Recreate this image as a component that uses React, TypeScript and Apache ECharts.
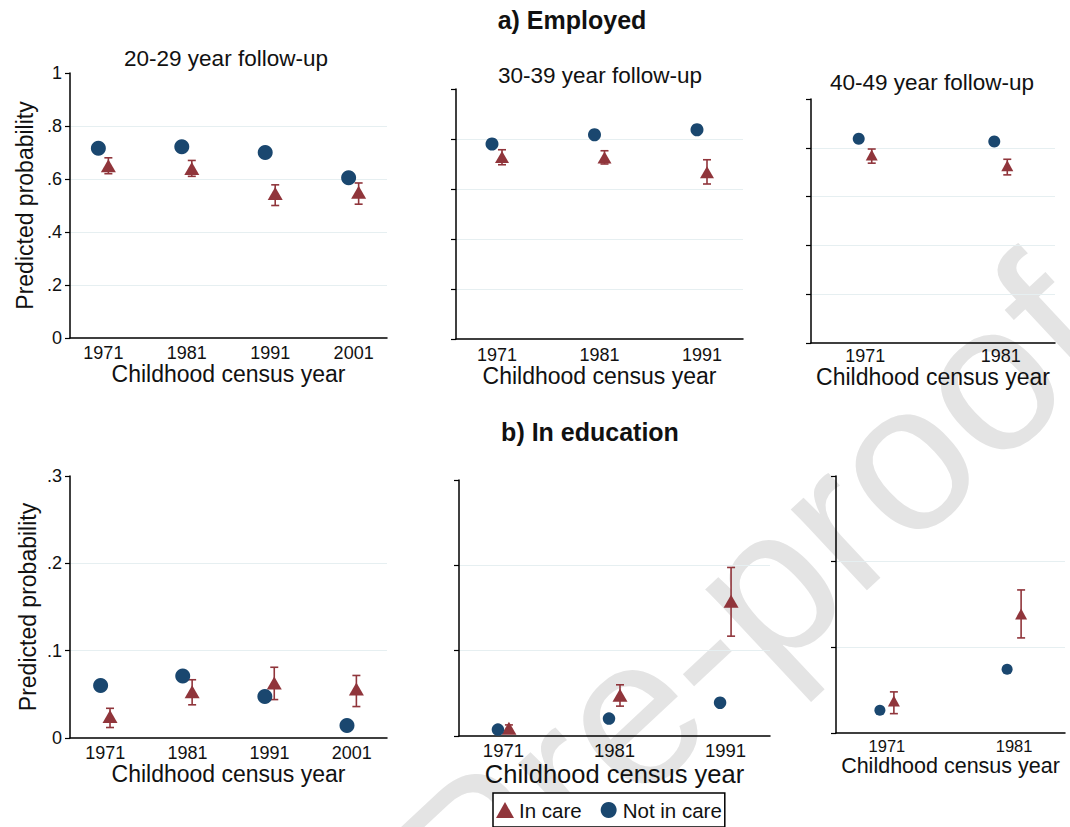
import React, { useEffect, useRef } from "react";
import * as echarts from "echarts";

// ---------- data ----------
const years20 = [1971, 1981, 1991, 2001];
const years30 = [1971, 1981, 1991];
const years40 = [1971, 1981];

// a) Employed
const empNotCare20 = [0.716, 0.722, 0.7, 0.605];
const empCare20 = [0.65, 0.64, 0.545, 0.55];
const empCareLo20 = [0.62, 0.61, 0.5, 0.505];
const empCareHi20 = [0.68, 0.67, 0.578, 0.585];

const empNotCare30 = [0.78, 0.817, 0.837];
const empCare30 = [0.728, 0.726, 0.667];
const empCareLo30 = [0.697, 0.7, 0.62];
const empCareHi30 = [0.757, 0.753, 0.717];

const empNotCare40 = [0.837, 0.826];
const empCare40 = [0.771, 0.726];
const empCareLo40 = [0.737, 0.689];
const empCareHi40 = [0.795, 0.753];

// b) In education
const eduNotCare20 = [0.06, 0.071, 0.0475, 0.0144];
const eduCare20 = [0.0247, 0.053, 0.063, 0.056];
const eduCareLo20 = [0.012, 0.038, 0.044, 0.036];
const eduCareHi20 = [0.034, 0.0667, 0.081, 0.0716];

const eduNotCare30 = [0.0075, 0.0204, 0.039];
const eduCare30 = [0.009, 0.0477, 0.158];
const eduCareLo30 = [0.005, 0.035, 0.117];
const eduCareHi30 = [0.013, 0.06, 0.1975];

const eduNotCare40 = [0.0265, 0.0744];
const eduCare40 = [0.0374, 0.139];
const eduCareLo40 = [0.0226, 0.111];
const eduCareHi40 = [0.048, 0.167];

const panelTitles = ["20-29 year follow-up", "30-39 year follow-up", "40-49 year follow-up"];
const sectionTitles = ["a) Employed", "b) In education"];
const xAxisTitle = "Childhood census year";
const yAxisTitle = "Predicted probability";
const legendNames = ["In care", "Not in care"];

// ---------- style ----------
const NAVY = "#1a476f";
const MAROON = "#90353b";
const GRIDC = "#e6eff1";
const INK = "#111111";
const FONT = "'Liberation Sans', Arial, Helvetica, sans-serif";

type Panel = {
  years: number[];
  notCare: number[];
  care: number[];
  lo: number[];
  hi: number[];
  grid: { left: number; top: number; width: number; height: number };
  xMin: number;
  xMax: number;
  yMax: number;
  yInt: number;
  yLabels: boolean;
  yName: boolean;
  yNameGap: number;
  off: number;
  circle: number;
  tri: number[];
  tickFont: number;
  tickMargin: number;
  nameFont: number;
  nameGap: number;
};

const panels: Panel[] = [
  {
    years: years20, notCare: empNotCare20, care: empCare20, lo: empCareLo20, hi: empCareHi20,
    grid: { left: 70, top: 73, width: 317, height: 265 }, xMin: 1967, xMax: 2005, yMax: 1, yInt: 0.2,
    yLabels: true, yName: true, yNameGap: 34, off: 5, circle: 15, tri: [15, 13],
    tickFont: 18, tickMargin: 6, nameFont: 23, nameGap: 22,
  },
  {
    years: years30, notCare: empNotCare30, care: empCare30, lo: empCareLo30, hi: empCareHi30,
    grid: { left: 456, top: 89, width: 287, height: 250 }, xMin: 1967, xMax: 1995, yMax: 1, yInt: 0.2,
    yLabels: false, yName: false, yNameGap: 0, off: 5, circle: 13, tri: [14, 12],
    tickFont: 18, tickMargin: 7, nameFont: 23, nameGap: 22,
  },
  {
    years: years40, notCare: empNotCare40, care: empCare40, lo: empCareLo40, hi: empCareHi40,
    grid: { left: 811, top: 99, width: 244, height: 244 }, xMin: 1967, xMax: 1985, yMax: 1, yInt: 0.2,
    yLabels: false, yName: false, yNameGap: 0, off: 6.5, circle: 12, tri: [12, 11],
    tickFont: 18, tickMargin: 4, nameFont: 23, nameGap: 21,
  },
  {
    years: years20, notCare: eduNotCare20, care: eduCare20, lo: eduCareLo20, hi: eduCareHi20,
    grid: { left: 70, top: 476, width: 317, height: 262 }, xMin: 1966.7, xMax: 2005.3, yMax: 0.3, yInt: 0.1,
    yLabels: true, yName: true, yNameGap: 31, off: 4.7, circle: 15, tri: [15, 13],
    tickFont: 18, tickMargin: 6, nameFont: 23, nameGap: 23,
  },
  {
    years: years30, notCare: eduNotCare30, care: eduCare30, lo: eduCareLo30, hi: eduCareHi30,
    grid: { left: 459, top: 480, width: 311, height: 256 }, xMin: 1967, xMax: 1995, yMax: 0.3, yInt: 0.1,
    yLabels: false, yName: false, yNameGap: 0, off: 5.5, circle: 12.5, tri: [15, 13],
    tickFont: 18.5, tickMargin: 5, nameFont: 25.5, nameGap: 23,
  },
  {
    years: years40, notCare: eduNotCare40, care: eduCare40, lo: eduCareLo40, hi: eduCareHi40,
    grid: { left: 836, top: 476, width: 229, height: 257 }, xMin: 1967, xMax: 1985, yMax: 0.3, yInt: 0.1,
    yLabels: false, yName: false, yNameGap: 0, off: 7, circle: 11, tri: [12, 11],
    tickFont: 16.5, tickMargin: 4, nameFont: 21.5, nameGap: 20,
  },
];

const fmtY = (v: number) => {
  const r = Math.round(v * 100) / 100;
  if (r === 0) return "0";
  if (r === 1) return "1";
  return String(r).replace(/^0/, "");
};

function buildOption() {
  const grid: any[] = [];
  const xAxis: any[] = [];
  const yAxis: any[] = [];
  const series: any[] = [];

  panels.forEach((p, i) => {
    grid.push({ ...p.grid, containLabel: false });
    xAxis.push({
      type: "value",
      gridIndex: i,
      min: p.xMin,
      max: p.xMax,
      name: xAxisTitle,
      nameLocation: "middle",
      nameGap: p.nameGap,
      nameTextStyle: { fontSize: p.nameFont, color: INK, fontFamily: FONT },
      axisLine: { show: true, onZero: false, lineStyle: { color: "#000", width: 1.5 } },
      axisTick: { show: false },
      splitLine: { show: false },
      axisLabel: {
        customValues: p.years,
        formatter: (v: number) => String(Math.round(v)),
        fontSize: p.tickFont,
        color: INK,
        fontFamily: FONT,
        margin: p.tickMargin,
      },
    });
    yAxis.push({
      type: "value",
      gridIndex: i,
      min: 0,
      max: p.yMax,
      interval: p.yInt,
      name: p.yName ? yAxisTitle : "",
      nameLocation: "middle",
      nameRotate: 90,
      nameGap: p.yNameGap,
      nameTextStyle: { fontSize: 23, color: INK, fontFamily: FONT },
      axisLine: { show: true, lineStyle: { color: "#000", width: 1.5 } },
      axisTick: { show: true, length: 5, lineStyle: { color: "#000", width: 1.2 } },
      splitLine: { show: true, showMinLine: false, showMaxLine: false, lineStyle: { color: GRIDC, width: 1.2 } },
      axisLabel: {
        show: p.yLabels,
        formatter: fmtY,
        fontSize: 18,
        color: INK,
        fontFamily: FONT,
        margin: 8,
      },
    });

    const off = p.off;
    series.push({
      type: "custom",
      name: "CI",
      xAxisIndex: i,
      yAxisIndex: i,
      silent: true,
      z: 3,
      encode: { x: 0, y: [1, 2] },
      data: p.years.map((y, k) => [y, p.lo[k], p.hi[k]]),
      renderItem: (params: any, api: any) => {
        const x = api.value(0);
        const a = api.coord([x, api.value(1)]);
        const b = api.coord([x, api.value(2)]);
        const cx = a[0] + off;
        const st = { stroke: MAROON, lineWidth: 1.6 };
        return {
          type: "group",
          children: [
            { type: "line", shape: { x1: cx, y1: a[1], x2: cx, y2: b[1] }, style: st },
            { type: "line", shape: { x1: cx - 4, y1: a[1], x2: cx + 4, y2: a[1] }, style: st },
            { type: "line", shape: { x1: cx - 4, y1: b[1], x2: cx + 4, y2: b[1] }, style: st },
          ],
        };
      },
    });
    series.push({
      type: "scatter",
      name: legendNames[0],
      xAxisIndex: i,
      yAxisIndex: i,
      symbol: "triangle",
      symbolSize: p.tri,
      symbolOffset: [off, 0],
      itemStyle: { color: MAROON, opacity: 1 },
      z: 4,
      data: p.years.map((y, k) => [y, p.care[k]]),
    });
    series.push({
      type: "scatter",
      name: legendNames[1],
      xAxisIndex: i,
      yAxisIndex: i,
      symbol: "circle",
      symbolSize: p.circle,
      symbolOffset: [-off, 0],
      itemStyle: { color: NAVY, opacity: 1 },
      z: 4,
      data: p.years.map((y, k) => [y, p.notCare[k]]),
    });
  });

  const titleCenters = [
    [226, 58],
    [600, 75],
    [932, 82],
  ];
  const title: any[] = [
    {
      text: sectionTitles[0], left: 572, top: 20, textAlign: "center", textVerticalAlign: "middle", padding: 0,
      textStyle: { fontSize: 25, fontWeight: "bold", color: INK, fontFamily: FONT },
    },
    {
      text: sectionTitles[1], left: 590, top: 432, textAlign: "center", textVerticalAlign: "middle", padding: 0,
      textStyle: { fontSize: 25, fontWeight: "bold", color: INK, fontFamily: FONT },
    },
    ...panelTitles.map((t, i) => ({
      text: t, left: titleCenters[i][0], top: titleCenters[i][1], textAlign: "center", textVerticalAlign: "middle",
      padding: 0, textStyle: { fontSize: 22.5, fontWeight: "normal", color: INK, fontFamily: FONT },
    })),
  ];

  return {
    animation: false,
    backgroundColor: "#ffffff",
    title,
    grid,
    xAxis,
    yAxis,
    series,
    legend: {
      data: [
        { name: legendNames[0], icon: "triangle", itemStyle: { color: MAROON } },
        { name: legendNames[1], icon: "circle", itemStyle: { color: NAVY } },
      ],
      left: 493,
      top: 793,
      orient: "horizontal",
      padding: [5, 3],
      itemGap: 19,
      itemWidth: 18,
      itemHeight: 16,
      selectedMode: false,
      borderColor: "#000",
      borderWidth: 1.5,
      backgroundColor: "#fff",
      textStyle: { fontSize: 20.5, color: INK, fontFamily: FONT, lineHeight: 24 },
    },
    graphic: [
      {
        type: "text",
        z: -10,
        silent: true,
        x: 1071,
        y: 300,
        rotation: (43 * Math.PI) / 180,
        style: {
          text: "Journal Pre-proof",
          fontSize: 210,
          fontFamily: FONT,
          fill: "#e4e4e4",
          textAlign: "right",
          textVerticalAlign: "middle",
        },
      },
    ],
  };
}

export default function App() {
  const ref = useRef<HTMLDivElement>(null);
  useEffect(() => {
    document.body.style.margin = "0";
    if (!ref.current) return;
    const chart = echarts.init(ref.current, undefined, { renderer: "svg" });
    chart.setOption(buildOption() as any);
    return () => chart.dispose();
  }, []);
  return <div ref={ref} style={{ width: 1070, height: 827 }} />;
}
